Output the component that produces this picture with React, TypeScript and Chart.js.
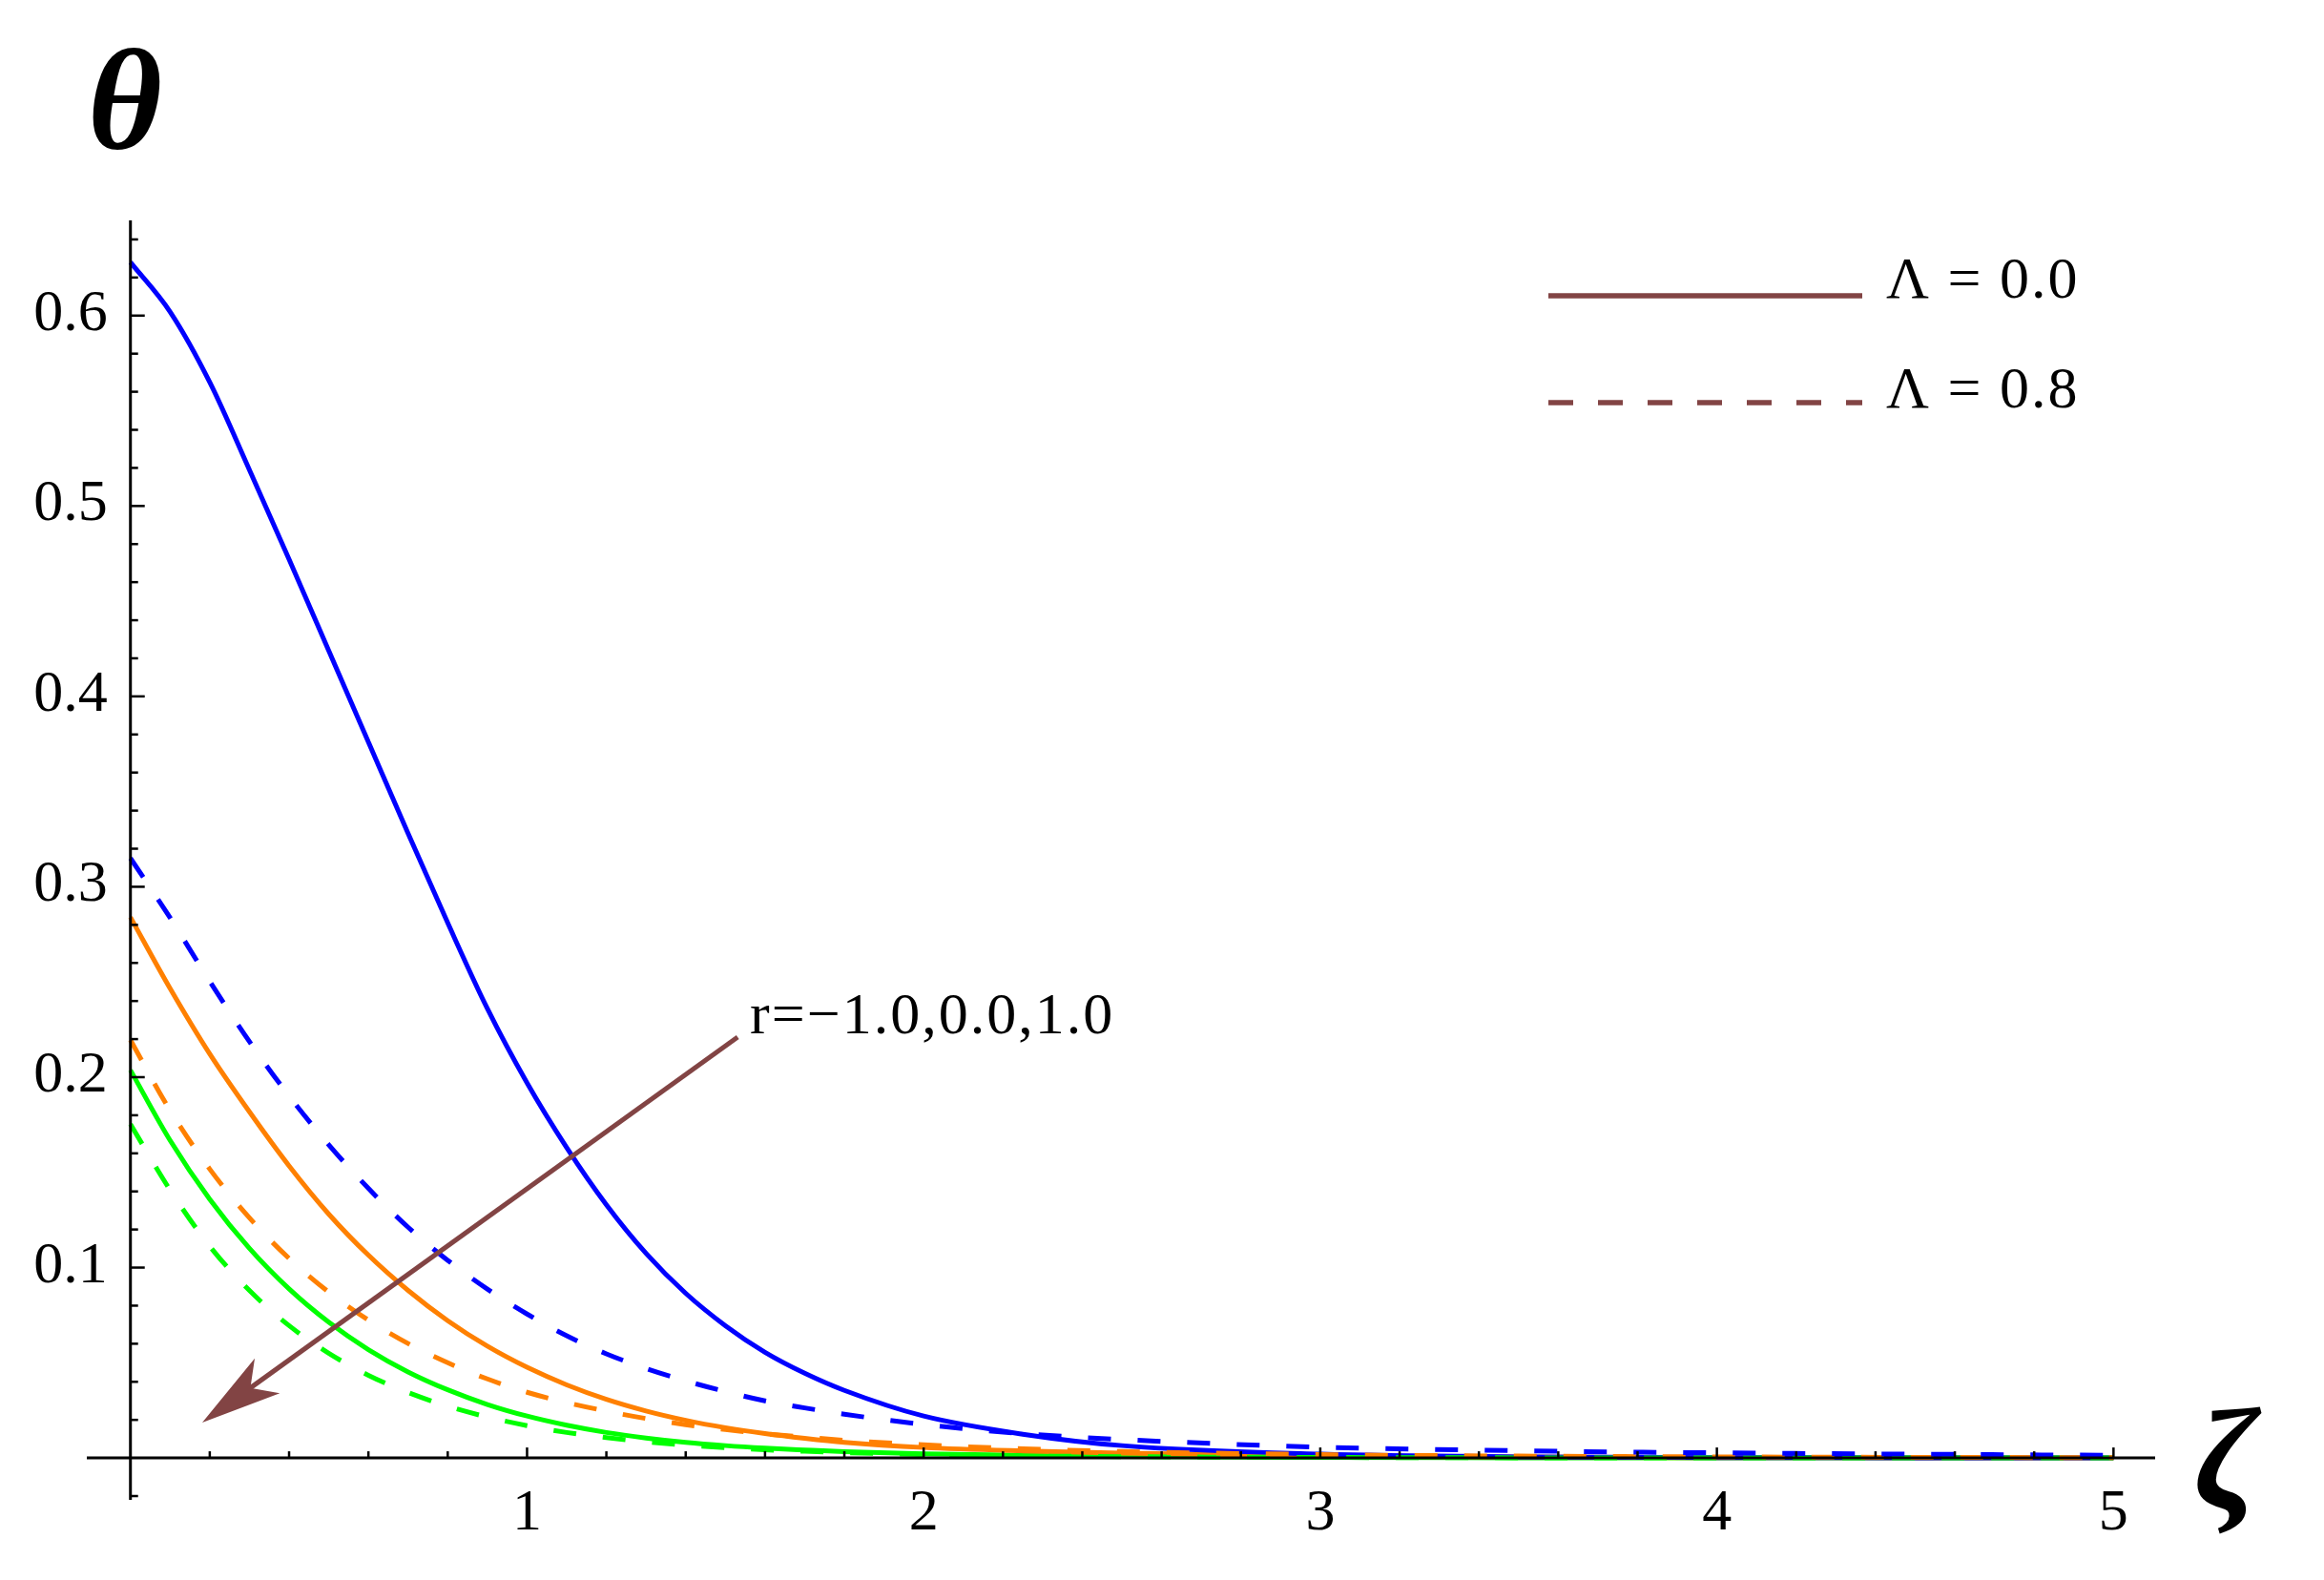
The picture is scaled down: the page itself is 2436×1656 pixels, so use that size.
import React, { useEffect, useRef } from "react";
import { Chart, registerables } from "chart.js";

Chart.register(...registerables);

// ζ sample positions
const zeta = [0, 0.1, 0.2, 0.3, 0.4, 0.5, 0.6, 0.7, 0.8, 0.9, 1.0, 1.1, 1.2, 1.3, 1.4, 1.5, 1.6, 1.7, 1.8, 2.0, 2.25, 2.5, 3.0, 3.5, 4.0, 4.5, 5.0];

// Λ = 0.0 (solid)
const thetaRm1L0 = [0.628, 0.602, 0.565, 0.519, 0.472, 0.424, 0.376, 0.328, 0.281, 0.236, 0.197, 0.163, 0.133, 0.1075, 0.0865, 0.0695, 0.0555, 0.0445, 0.0355, 0.022, 0.0125, 0.0065, 0.002, 0.0006, 0.0002, 0.0001, 0];
const thetaR0L0 = [0.284, 0.2466, 0.2122, 0.1818, 0.1534, 0.1281, 0.1065, 0.088, 0.0721, 0.0587, 0.0476, 0.0384, 0.0308, 0.0247, 0.0198, 0.0159, 0.0128, 0.0103, 0.0082, 0.0055, 0.0037, 0.0025, 0.0011, 0.0005, 0.0002, 0.0001, 0];
const thetaR1L0 = [0.2037, 0.1668, 0.1359, 0.1101, 0.0888, 0.0713, 0.0569, 0.0452, 0.0358, 0.0281, 0.022, 0.0172, 0.0134, 0.0105, 0.0082, 0.0065, 0.0052, 0.0042, 0.0033, 0.0022, 0.0014, 0.0008, 0.0003, 0.0001, 0, 0, 0];

// Λ = 0.8 (dashed)
const thetaRm1L8 = [0.315, 0.2837, 0.2503, 0.2187, 0.1901, 0.1645, 0.1416, 0.1212, 0.1038, 0.0887, 0.0756, 0.0642, 0.0547, 0.047, 0.0405, 0.0349, 0.030, 0.0263, 0.023, 0.0176, 0.0128, 0.0097, 0.0057, 0.0038, 0.0027, 0.002, 0.0014];
const thetaR0L8 = [0.2195, 0.1825, 0.1517, 0.1261, 0.1048, 0.0871, 0.0724, 0.0601, 0.05, 0.0415, 0.0345, 0.0291, 0.0246, 0.0207, 0.0175, 0.0149, 0.0127, 0.0109, 0.0093, 0.0069, 0.0048, 0.0034, 0.0018, 0.001, 0.0006, 0.0003, 0.0002];
const thetaR1L8 = [0.1753, 0.1407, 0.1112, 0.088, 0.0695, 0.055, 0.0434, 0.0344, 0.0272, 0.0215, 0.017, 0.0134, 0.0107, 0.0085, 0.0067, 0.0054, 0.0043, 0.0035, 0.0028, 0.0018, 0.0011, 0.0007, 0.0003, 0.0001, 0, 0, 0];

const xTickValues = [1, 2, 3, 4, 5];
const xTickLabels = ["1", "2", "3", "4", "5"];
const yTickValues = [0.1, 0.2, 0.3, 0.4, 0.5, 0.6];
const yTickLabels = ["0.1", "0.2", "0.3", "0.4", "0.5", "0.6"];

const legendLabels = ["\u039B = 0.0", "\u039B = 0.8"];
const arrowLabel = "r=\u22121.0,0.0,1.0";
const arrowTail = [1.531, 0.221];
const arrowTip = [0.181, 0.0186];
const labelAnchor = [1.562, 0.223];

const BLUE = "#0000ff";
const ORANGE = "#ff8000";
const GREEN = "#00ff00";
const BROWN = "#824444";
const SERIF = "'Liberation Serif', 'Times New Roman', serif";

const decorPlugin = {
  id: "decor",
  afterDatasetsDraw(chart: any) {
    const { ctx, chartArea } = chart;
    const xs = chart.scales.x;
    const ys = chart.scales.y;
    const px = (v: number) => xs.getPixelForValue(v);
    const py = (v: number) => ys.getPixelForValue(v);
    const x0 = px(0);
    const y0 = py(0);
    ctx.save();

    // arrow
    const sx = px(arrowTail[0]), sy = py(arrowTail[1]);
    const tx = px(arrowTip[0]), ty = py(arrowTip[1]);
    const dx = tx - sx, dy = ty - sy;
    const len = Math.hypot(dx, dy);
    const ux = dx / len, uy = dy / len;
    const nx = -uy, ny = ux;
    const L = 84, W = 22.5;
    ctx.strokeStyle = BROWN;
    ctx.lineWidth = 5;
    ctx.lineCap = "butt";
    ctx.beginPath();
    ctx.moveTo(sx, sy);
    ctx.lineTo(tx - ux * L * 0.7, ty - uy * L * 0.7);
    ctx.stroke();
    ctx.fillStyle = BROWN;
    ctx.beginPath();
    ctx.moveTo(tx, ty);
    ctx.lineTo(tx - ux * L + nx * W, ty - uy * L + ny * W);
    ctx.lineTo(tx - ux * L * 0.74, ty - uy * L * 0.74);
    ctx.lineTo(tx - ux * L - nx * W, ty - uy * L - ny * W);
    ctx.closePath();
    ctx.fill();

    // arrow label
    ctx.fillStyle = "#000";
    ctx.font = `62px ${SERIF}`;
    ctx.textAlign = "left";
    ctx.textBaseline = "alphabetic";
    try { (ctx as any).letterSpacing = "2px"; } catch (e) {}
    ctx.fillText(arrowLabel, px(labelAnchor[0]), py(labelAnchor[1]));
    try { (ctx as any).letterSpacing = "0px"; } catch (e) {}

    // axes
    ctx.strokeStyle = "#000";
    ctx.lineWidth = 3;
    ctx.beginPath();
    ctx.moveTo(chartArea.left, y0);
    ctx.lineTo(chartArea.right, y0);
    ctx.moveTo(x0, chartArea.top);
    ctx.lineTo(x0, chartArea.bottom);
    ctx.stroke();

    // ticks
    ctx.lineWidth = 2.5;
    for (let k = 1; k <= 25; k++) {
      const v = k * 0.2;
      const major = k % 5 === 0;
      const l = major ? 11 : 7;
      const p = px(v);
      ctx.beginPath();
      ctx.moveTo(p, y0);
      ctx.lineTo(p, y0 - l);
      ctx.stroke();
    }
    for (let k = -1; k <= 32; k++) {
      if (k === 0) continue;
      const v = k * 0.02;
      const major = k % 5 === 0;
      const l = major ? 15 : 8;
      const p = py(v);
      ctx.beginPath();
      ctx.moveTo(x0, p);
      ctx.lineTo(x0 + l, p);
      ctx.stroke();
    }

    // tick labels
    ctx.fillStyle = "#000";
    ctx.font = `62px ${SERIF}`;
    ctx.textAlign = "center";
    xTickValues.forEach((v, i) => ctx.fillText(xTickLabels[i], px(v), y0 + 75));
    ctx.textAlign = "right";
    yTickValues.forEach((v, i) => ctx.fillText(yTickLabels[i], x0 - 24, py(v) + 15));

    // axis titles
    ctx.font = `italic bold 150px ${SERIF}`;
    ctx.textAlign = "left";
    ctx.fillText("\u03B8", 92, 156);
    ctx.fillText("\u03B6", 2300, 1580);

    // legend
    const lx1 = 1623, lx2 = 1952;
    const ly = [310, 422];
    const lb = [312, 427];
    ctx.strokeStyle = BROWN;
    ctx.lineWidth = 5.5;
    ctx.beginPath();
    ctx.moveTo(lx1, ly[0]);
    ctx.lineTo(lx2, ly[0]);
    ctx.stroke();
    ctx.setLineDash([26, 26]);
    ctx.beginPath();
    ctx.moveTo(lx1, ly[1]);
    ctx.lineTo(lx2, ly[1]);
    ctx.stroke();
    ctx.setLineDash([]);
    ctx.fillStyle = "#000";
    ctx.font = `62px ${SERIF}`;
    ctx.textAlign = "left";
    try { (ctx as any).letterSpacing = "2px"; } catch (e) {}
    legendLabels.forEach((t, i) => ctx.fillText(t, 1977, lb[i]));
    try { (ctx as any).letterSpacing = "0px"; } catch (e) {}

    ctx.restore();
  },
};

export default function App() {
  const ref = useRef<HTMLCanvasElement>(null);
  useEffect(() => {
    const canvas = ref.current;
    if (!canvas) return;
    const mk = (arr: number[], color: string, dashed: boolean) => ({
      data: zeta.map((x, i) => ({ x, y: arr[i] })),
      borderColor: color,
      borderWidth: 5,
      borderDash: dashed ? [24, 28] : [],
      borderCapStyle: "butt" as const,
      borderJoinStyle: "round" as const,
      pointRadius: 0,
      fill: false,
      cubicInterpolationMode: "monotone" as const,
      order: dashed ? 1 : 2,
    });
    const chart = new Chart(canvas, {
      type: "line",
      data: {
        datasets: [
          mk(thetaRm1L0, BLUE, false),
          mk(thetaR0L0, ORANGE, false),
          mk(thetaR1L0, GREEN, false),
          mk(thetaRm1L8, BLUE, true),
          mk(thetaR0L8, ORANGE, true),
          mk(thetaR1L8, GREEN, true),
        ] as any,
      },
      options: {
        responsive: false,
        animation: false,
        devicePixelRatio: 1,
        events: [],
        layout: { padding: { left: 91, right: 177, top: 231, bottom: 84 } },
        scales: {
          x: { type: "linear", min: -0.11, max: 5.105, display: false },
          y: { type: "linear", min: -0.022, max: 0.65, display: false },
        },
        plugins: { legend: { display: false }, tooltip: { enabled: false } },
      },
      plugins: [decorPlugin],
    });
    return () => chart.destroy();
  }, []);
  return (
    <canvas
      ref={ref}
      width={2436}
      height={1656}
      style={{ position: "absolute", left: 0, top: 0, display: "block", background: "#fff" }}
    />
  );
}
